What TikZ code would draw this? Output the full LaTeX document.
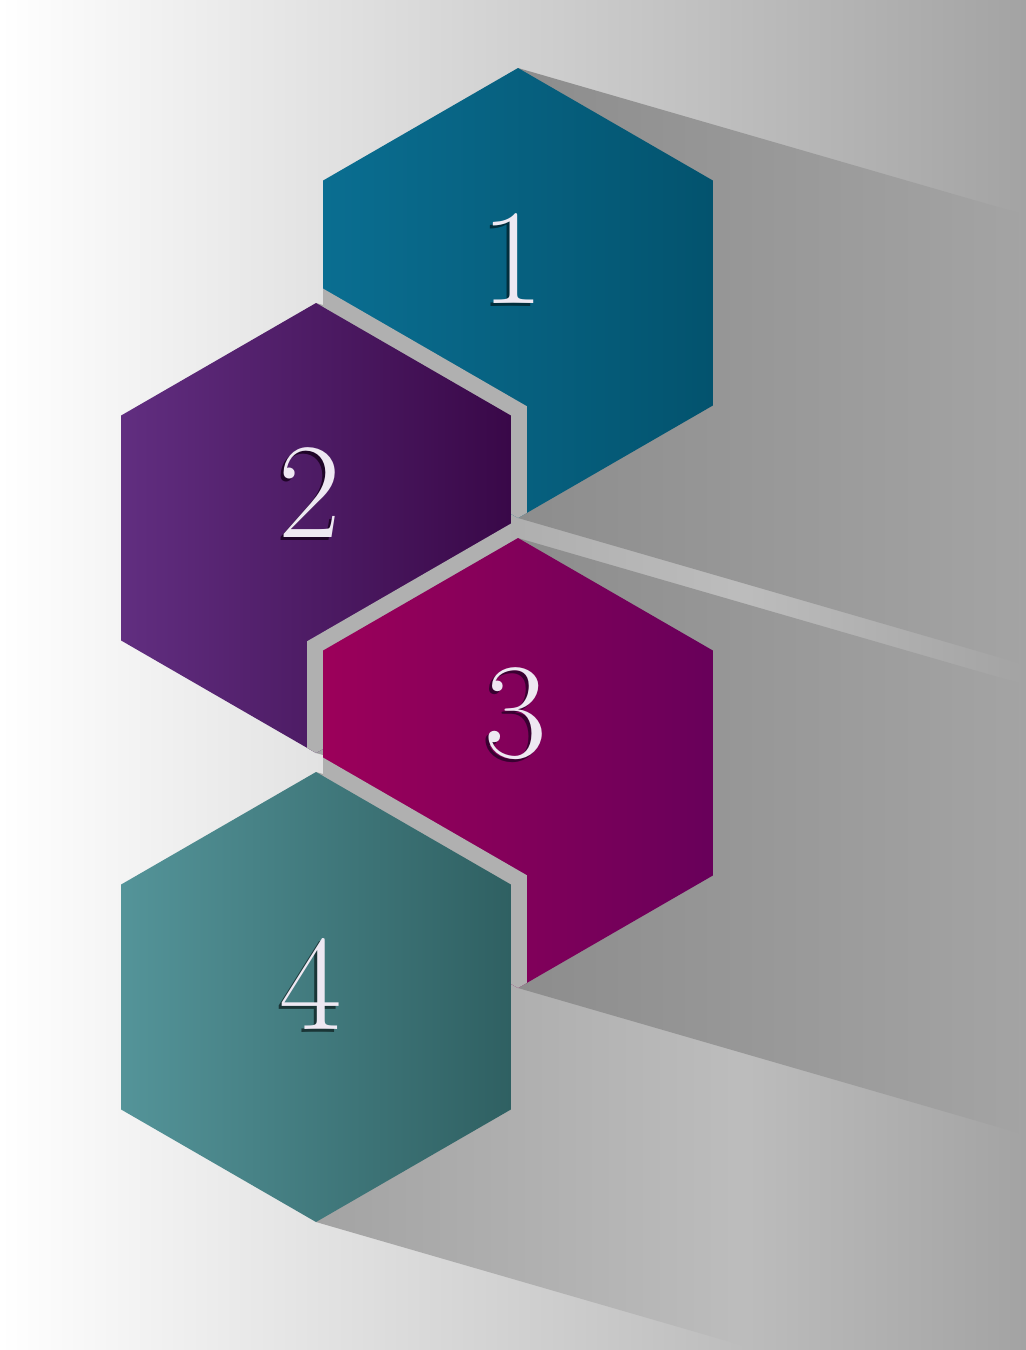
\documentclass[tikz,border=0pt]{standalone}
\usepackage{fontspec}
\usetikzlibrary{shapes.geometric, calc}

\definecolor{bgright}{RGB}{163,163,163}
\definecolor{bandgray}{RGB}{176,176,176}
\definecolor{numwhite}{RGB}{238,232,242}
\definecolor{tealA}{RGB}{10,110,145}
\definecolor{tealB}{RGB}{3,83,110}
\definecolor{plumA}{RGB}{97,46,128}
\definecolor{plumB}{RGB}{57,8,72}
\definecolor{berryA}{RGB}{156,0,90}
\definecolor{berryB}{RGB}{104,0,90}
\definecolor{sageA}{RGB}{84,148,153}
\definecolor{sageB}{RGB}{47,96,98}
\definecolor{shadeNearA}{gray}{0.553}
\definecolor{shadeFarA}{gray}{0.69}
\definecolor{shadeNearB}{gray}{0.64}
\definecolor{shadeFarB}{gray}{0.82}

% digit with a soft dark copy behind it
\newcommand{\shadenum}[2]{\makebox[0pt][l]{\kern-1.5pt\raisebox{-1.5pt}{\textcolor{#2}{#1}}}#1}

\begin{document}
\begin{tikzpicture}[x=0.5pt, y=-0.5pt,
    hexcell/.style={regular polygon, regular polygon sides=6, shape border rotate=30,
                    minimum size=225pt, inner sep=0pt, outer sep=0pt},
    gapband/.style={hexcell, minimum size=243.5pt, fill=bandgray},
    numlabel/.style={inner sep=0pt, text=numwhite, font=\fontsize{68}{68}\selectfont}]
    \useasboundingbox (0,0) rectangle (1026,1350);
    \shade[left color=white, right color=bgright] (0,0) rectangle (1026,1350);

    \coordinate (c1) at (518,293);
    \coordinate (c2) at (316,528);
    \coordinate (c3) at (518,763);
    \coordinate (c4) at (316,997);

    % long shadows to the right
    \foreach \c/\near/\far in {c2/shadeNearB/shadeFarB, c4/shadeNearB/shadeFarB,
                               c1/shadeNearA/shadeFarA, c3/shadeNearA/shadeFarA}
        \shade[blend mode=darken, left color=\near, right color=\far]
            ($(\c)+(0,-225)$) -- ++(777,225) -- ++(0,450) -- ($(\c)+(0,225)$) -- cycle;

    \node[hexcell, left color=tealA, right color=tealB] (h1) at (c1) {};
    \begin{scope}
        \clip (h1.corner 1) -- (h1.corner 2) -- (h1.corner 3) -- (h1.corner 4) -- (h1.corner 5) -- (h1.corner 6) -- cycle;
        \node[gapband] (g2) at (c2) {};
    \end{scope}
    \node[hexcell, left color=plumA, right color=plumB] (h2) at (c2) {};
    \begin{scope}
        \clip (h2.corner 1) -- (h2.corner 2) -- (h2.corner 3) -- (h2.corner 4) -- (h2.corner 5) -- (h2.corner 6) -- cycle;
        \node[gapband] (g3) at (c3) {};
    \end{scope}
    \node[hexcell, left color=berryA, right color=berryB] (h3) at (c3) {};
    \begin{scope}
        \clip (h3.corner 1) -- (h3.corner 2) -- (h3.corner 3) -- (h3.corner 4) -- (h3.corner 5) -- (h3.corner 6) -- cycle;
        \node[gapband] (g4) at (c4) {};
    \end{scope}
    \node[hexcell, left color=sageA, right color=sageB] (h4) at (c4) {};

    \node[numlabel] (n1) at (513,260) {\shadenum{1}{tealB!55!black}};
    \node[numlabel] (n2) at (310,494) {\shadenum{2}{plumB!55!black}};
    \node[numlabel] (n3) at (516,715) {\shadenum{3}{berryB!55!black}};
    \node[numlabel] (n4) at (311,985) {\shadenum{4}{sageB!55!black}};
\end{tikzpicture}
\end{document}
